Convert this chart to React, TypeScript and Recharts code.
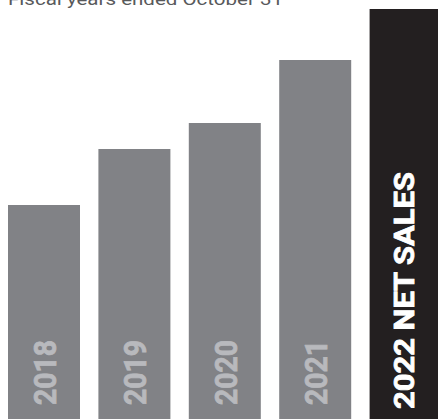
import React from 'react';
import { BarChart, Bar, XAxis, YAxis, Cell, LabelList } from 'recharts';

const years = ['2018', '2019', '2020', '2021', '2022'];
const netSales = [214, 270, 296, 359, 410];
const barLabels = ['2018', '2019', '2020', '2021', '2022 NET SALES'];
const highlightYear = '2022';

const chartData = years.map((year, i) => ({
  year,
  value: netSales[i],
  label: barLabels[i],
}));

const GREY = '#818286';
const LABEL_GREY = '#b8b9bd';
const DARK = '#231f20';

const BarLabel = (props: any) => {
  const { x, y, width, height, value, index } = props;
  const isHighlight = years[index] === highlightYear;
  const color = isHighlight ? '#ffffff' : LABEL_GREY;
  const cx = Number(x) + Number(width) / 2;
  const baseX = isHighlight ? cx + 8 : cx + 12;
  const baseY = Number(y) + Number(height) - (isHighlight ? 10 : 14);
  return (
    <text
      x={baseX}
      y={baseY}
      transform={`rotate(-90, ${baseX}, ${baseY})`}
      textAnchor="start"
      fill={color}
      stroke={color}
      strokeWidth={0.8}
      fontFamily="Roboto, sans-serif"
      fontWeight={700}
      fontSize={isHighlight ? 28 : 31}
      textLength={isHighlight ? 237 : 65}
      lengthAdjust="spacingAndGlyphs"
    >
      {value}
    </text>
  );
};

const App: React.FC = () => {
  return (
    <div
      style={{
        position: 'fixed',
        top: 0,
        left: 0,
        width: 438,
        height: 419,
        overflow: 'hidden',
        background: '#ffffff',
      }}
    >
      <BarChart
        width={451}
        height={419}
        data={chartData}
        margin={{ top: 0, right: 0, left: -1, bottom: 0 }}
      >
        <XAxis dataKey="year" hide />
        <YAxis domain={[0, 419]} hide />
        <Bar dataKey="value" barSize={72} isAnimationActive={false}>
          {chartData.map((d) => (
            <Cell key={d.year} fill={d.year === highlightYear ? DARK : GREY} />
          ))}
          <LabelList dataKey="label" content={BarLabel} />
        </Bar>
      </BarChart>
      <svg
        width={438}
        height={20}
        style={{ position: 'absolute', top: 0, left: 0 }}
      >
        <text
          x={8}
          y={5}
          fill="#58595b"
          fontFamily="Roboto, sans-serif"
          fontSize={17}
          textLength={275}
          lengthAdjust="spacingAndGlyphs"
        >
          Fiscal years ended October 31
        </text>
      </svg>
    </div>
  );
};

export default App;
